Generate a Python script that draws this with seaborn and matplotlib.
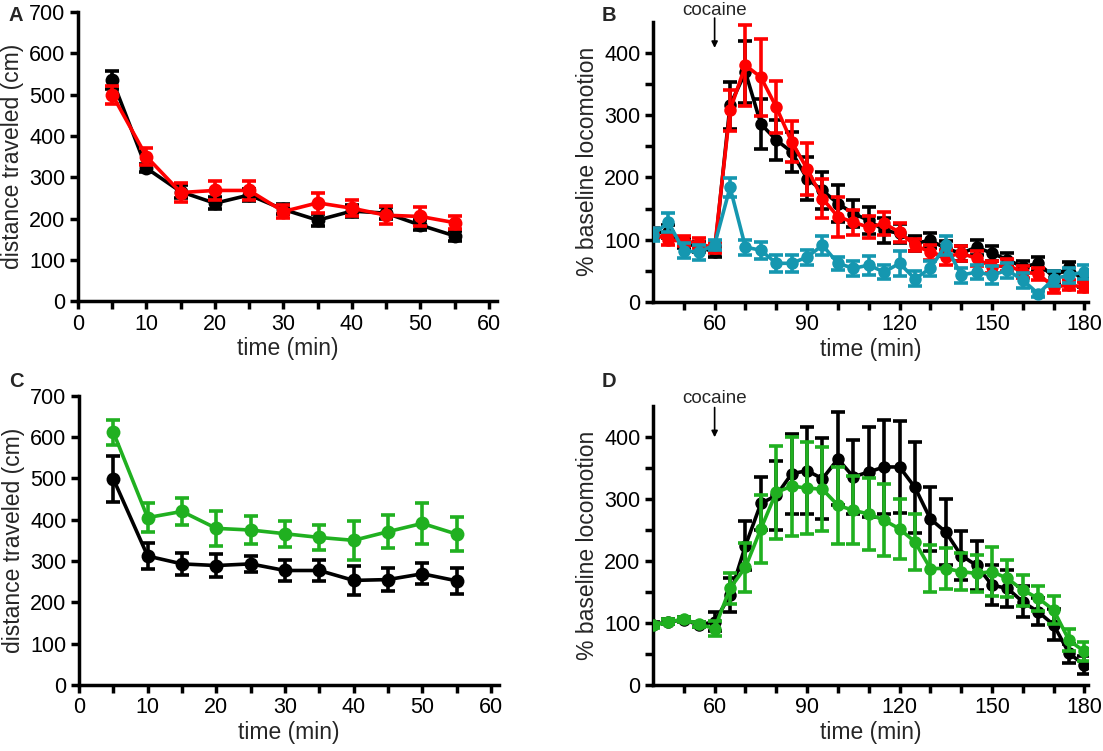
import numpy as np
import pandas as pd
import matplotlib
matplotlib.use("Agg")
import matplotlib.pyplot as plt
import seaborn as sns
from matplotlib.ticker import MultipleLocator, FixedLocator

sns.set_theme(style="ticks")
plt.rcParams['font.family'] = ['Liberation Sans', 'DejaVu Sans']

# ---------------- data ----------------
time_ac = [5, 10, 15, 20, 25, 30, 35, 40, 45, 50, 55]
a_black = [536, 322, 265, 237, 257, 222, 196, 218, 213, 184, 158]
a_black_err = [22, 10, 15, 15, 15, 12, 15, 15, 15, 12, 12]
a_red = [500, 350, 263, 268, 268, 217, 238, 225, 208, 205, 190]
a_red_err = [22, 20, 22, 22, 22, 15, 25, 20, 22, 22, 15]

c_black = [499, 312, 293, 289, 293, 277, 277, 253, 255, 269, 252]
c_black_err = [55, 32, 27, 27, 20, 25, 25, 35, 27, 25, 32]
c_green = [612, 405, 420, 379, 375, 366, 357, 350, 371, 391, 365]
c_green_err = [30, 35, 32, 42, 35, 32, 30, 48, 40, 50, 42]

time_bd = [40, 45, 50, 55, 60, 65, 70, 75, 80, 85, 90, 95, 100, 105, 110,
           115, 120, 125, 130, 135, 140, 145, 150, 155, 160, 165, 170, 175, 180]
b_black = [110, 113, 95, 88, 80, 316, 369, 286, 260, 241, 198, 179, 158, 142, 131,
           115, 110, 94, 99, 86, 78, 88, 78, 68, 56, 62, 40, 56, 32]
b_black_err = [8, 10, 8, 8, 8, 38, 50, 40, 32, 32, 35, 30, 30, 22, 22,
               20, 15, 12, 12, 12, 12, 12, 12, 10, 10, 10, 10, 8, 8]
b_red = [110, 99, 98, 94, 86, 308, 380, 361, 313, 257, 214, 166, 137, 128, 120,
         126, 112, 91, 80, 72, 78, 70, 56, 59, 48, 45, 24, 27, 24]
b_red_err = [8, 8, 8, 8, 8, 33, 65, 62, 42, 33, 42, 32, 32, 20, 18,
             18, 15, 10, 12, 12, 12, 12, 10, 10, 10, 10, 10, 8, 8]
b_teal = [108, 128, 82, 80, 92, 184, 88, 83, 62, 62, 72, 91, 62, 54, 59,
          48, 62, 37, 54, 91, 43, 48, 43, 51, 35, 13, 37, 43, 48]
b_teal_err = [10, 15, 12, 12, 8, 15, 12, 14, 14, 14, 12, 15, 10, 12, 15,
              12, 20, 12, 12, 15, 12, 12, 14, 12, 12, 5, 12, 12, 12]

d_black = [97, 102, 105, 97, 102, 145, 225, 293, 306, 341, 346, 333, 365, 336, 344,
           352, 352, 319, 268, 247, 209, 193, 161, 156, 134, 118, 97, 51, 32]
d_black_err = [4, 4, 4, 4, 15, 28, 40, 42, 55, 65, 70, 65, 75, 60, 72,
               76, 75, 73, 51, 53, 40, 39, 32, 30, 25, 22, 25, 15, 15]
d_green = [96, 102, 106, 98, 91, 156, 190, 252, 311, 321, 318, 316, 290, 282, 276,
           266, 252, 231, 188, 188, 183, 180, 183, 172, 153, 140, 121, 72, 54]
d_green_err = [4, 4, 4, 4, 12, 25, 40, 55, 75, 80, 75, 68, 62, 55, 58,
               58, 48, 45, 38, 33, 30, 30, 40, 30, 25, 20, 22, 18, 15]

BLACK = "#000000"
RED = "#ff0000"
TEAL = "#1597b0"
GREEN = "#20b020"

LW = 2.6
TICK_FS = 15.5
LABEL_FS = 16.5

fig = plt.figure(figsize=(11.03, 7.51), dpi=100)
axA = fig.add_axes([0.0707, 0.599, 0.380, 0.385])
axB = fig.add_axes([0.592, 0.598, 0.394, 0.373])
axC = fig.add_axes([0.0716, 0.088, 0.381, 0.385])
axD = fig.add_axes([0.592, 0.088, 0.394, 0.371])


def draw(ax, x, y, err, color, z, ms):
    df = pd.DataFrame({"t": x, "v": y})
    ax.errorbar(x, y, yerr=err, fmt="none", ecolor=color, elinewidth=LW,
                capsize=5, capthick=LW, zorder=z)
    sns.lineplot(data=df, x="t", y="v", ax=ax, color=color, lw=LW,
                 marker="o", markersize=ms, markeredgewidth=0, zorder=z + 0.5,
                 legend=False)


def style(ax):
    for s in ["top", "right"]:
        ax.spines[s].set_visible(False)
    for s in ["left", "bottom"]:
        ax.spines[s].set_linewidth(2.5)
        ax.spines[s].set_color("black")
    ax.tick_params(which="both", direction="out", length=6, width=2.5,
                   colors="black", labelsize=TICK_FS, pad=3)
    ax.set_facecolor("white")


# Panel A
draw(axA, time_ac, a_black, a_black_err, BLACK, 2, 10)
draw(axA, time_ac, a_red, a_red_err, RED, 3, 10)
# Panel C
draw(axC, time_ac, c_black, c_black_err, BLACK, 2, 10)
draw(axC, time_ac, c_green, c_green_err, GREEN, 3, 10)

for ax in (axA, axC):
    ax.set_xlim(0, 61.2)
    ax.set_ylim(0, 700)
    ax.xaxis.set_major_locator(MultipleLocator(10))
    ax.xaxis.set_minor_locator(FixedLocator([5, 15, 25, 35, 45, 55]))
    ax.yaxis.set_major_locator(MultipleLocator(100))
    ax.set_xlabel("time (min)", fontsize=LABEL_FS, labelpad=2)
    ax.set_ylabel("distance traveled (cm)", fontsize=LABEL_FS, labelpad=4)
    style(ax)

# Panel B
draw(axB, time_bd, b_black, b_black_err, BLACK, 2, 9)
draw(axB, time_bd, b_red, b_red_err, RED, 3, 9)
draw(axB, time_bd, b_teal, b_teal_err, TEAL, 4, 9)
# Panel D
draw(axD, time_bd, d_black, d_black_err, BLACK, 2, 9)
draw(axD, time_bd, d_green, d_green_err, GREEN, 3, 9)

for ax, ytext, ystart, ytip in ((axB, 468, 456, 408), (axD, 462, 448, 400)):
    ax.set_xlim(40, 181)
    ax.set_ylim(0, 450)
    ax.xaxis.set_major_locator(FixedLocator([60, 90, 120, 150, 180]))
    ax.xaxis.set_minor_locator(FixedLocator([50, 70, 80, 100, 110, 130, 140, 160, 170]))
    ax.yaxis.set_major_locator(FixedLocator([0, 100, 200, 300, 400]))
    ax.yaxis.set_minor_locator(FixedLocator([50, 150, 250, 350]))
    ax.set_xlabel("time (min)", fontsize=LABEL_FS, labelpad=2)
    ax.set_ylabel("% baseline locomotion", fontsize=LABEL_FS, labelpad=4)
    style(ax)
    ax.text(60, ytext, "cocaine", ha="center", va="center", fontsize=13.5,
            clip_on=False)
    ax.annotate("", xy=(60, ytip), xytext=(60, ystart),
                arrowprops=dict(arrowstyle="-|>", color="black", lw=1.2,
                                mutation_scale=9, shrinkA=0, shrinkB=0),
                annotation_clip=False)

# Panel letters
fig.text(0.008, 0.979, "A", fontsize=14.5, fontweight="bold", va="center")
fig.text(0.545, 0.979, "B", fontsize=14.5, fontweight="bold", va="center")
fig.text(0.008, 0.492, "C", fontsize=14.5, fontweight="bold", va="center")
fig.text(0.545, 0.492, "D", fontsize=14.5, fontweight="bold", va="center")

fig.savefig("out.png", dpi=100, facecolor="white")
